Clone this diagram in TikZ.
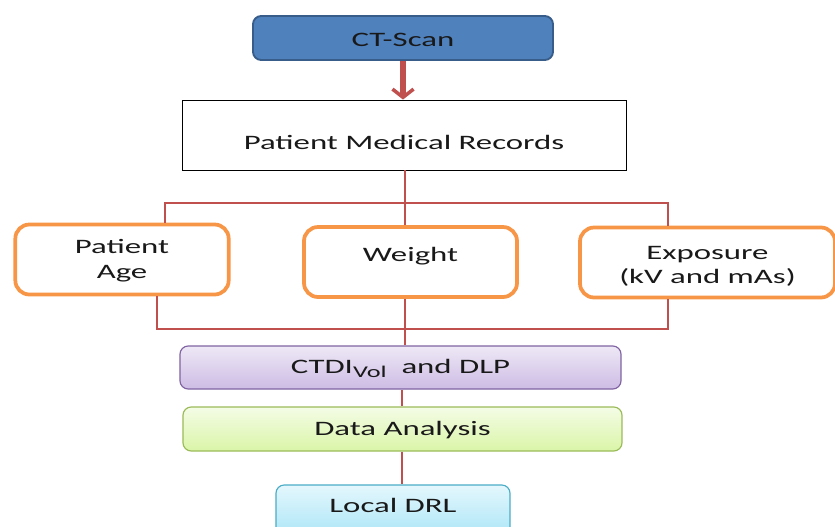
\documentclass[tikz,border=0pt]{standalone}
\usepackage{fontspec}
\setmainfont{Carlito}[FakeStretch=1.6]
\usepackage{tikz}
\usepackage{xcolor}
\usetikzlibrary{arrows.meta, positioning, calc, shadows}
\definecolor{ScanBlue}{HTML}{4F81BD}
\definecolor{ScanEdge}{HTML}{385D8A}
\definecolor{LinkRed}{HTML}{C0504D}
\definecolor{FactorOrange}{HTML}{F79646}
\definecolor{DoseLilac}{HTML}{8064A2}
\definecolor{DoseTop}{HTML}{EEE8F6}
\definecolor{DoseBottom}{HTML}{CDBCE4}
\definecolor{StatGreen}{HTML}{9BBB59}
\definecolor{StatTop}{HTML}{F4FCE6}
\definecolor{StatBottom}{HTML}{DAF5A8}
\definecolor{DrlCyan}{HTML}{4BACC6}
\definecolor{DrlTop}{HTML}{E4F7FD}
\definecolor{DrlBottom}{HTML}{ADE6F7}
% move a text up or down without changing its box
\newcommand{\nudge}[2]{\raisebox{#1}[\height][\depth]{#2}}

\begin{document}
\begin{tikzpicture}[
    x=0.03cm, y=-0.03cm,
    stage/.style={rectangle, rounded corners=7pt, align=center, font=\fontsize{17.5}{21}\selectfont,
                  text=black!90},
    factor/.style={stage, draw=FactorOrange, line width=3.2pt, fill=white, rounded corners=12pt,
                   minimum width=6.4cm, minimum height=2.1cm},
    link/.style={LinkRed, line width=2.3pt}
]
    \useasboundingbox (0,0) rectangle (835,526);
    % top of the chain
    \node[stage, draw=ScanEdge, line width=1.6pt, fill=ScanBlue, minimum width=9cm, minimum height=1.32cm]
        (ctscan) at (403,38) {\nudge{-0.06cm}{CT-Scan}};
    \node[rectangle, draw=black, line width=0.8pt, fill=white, minimum width=13.32cm, minimum height=2.1cm,
          font=\fontsize{17.5}{21}\selectfont, text=black!90] (records) at (404,135)
          {\nudge{-0.21cm}{Patient Medical Records}};
    \draw[LinkRed, line width=5pt, -{Straight Barb[length=7pt, width=18pt, line width=3pt]}]
        (ctscan.south) -- (ctscan.south |- records.north);

    % the three factors
    \node[factor] (age) at (122,259.5)
          {\nudge{-0.05cm}{\begin{tabular}{@{}c@{}}Patient\\Age\end{tabular}}};
    \node[factor, minimum width=6.39cm] (weight) at (410.5,262) {\nudge{0.18cm}{Weight}};
    \node[factor, minimum width=7.65cm] (exposure) at (707.5,262.5)
          {\nudge{-0.12cm}{\begin{tabular}{@{}c@{}}Exposure\\(kV and mAs)\end{tabular}}};

    % dose and analysis
    \node[stage, draw=DoseLilac, line width=1pt, top color=DoseTop, bottom color=DoseBottom,
          minimum width=13.23cm, minimum height=1.29cm] (ctdi) at (400.5,367.5)
          {\nudge{-0.03cm}{CTDI\raisebox{-0.35ex}{\fontsize{14}{15}\selectfont Vol}\ \ and DLP}};
    \node[stage, draw=StatGreen, line width=1pt, top color=StatTop, bottom color=StatBottom,
          minimum width=13.17cm, minimum height=1.32cm] (analysis) at (402.5,429)
          {\nudge{-0.03cm}{Data Analysis}};
    \node[stage, draw=DrlCyan, line width=1pt, top color=DrlTop, bottom color=DrlBottom,
          minimum width=7.02cm, minimum height=1.5cm, text depth=0pt] (drl) at (393,510)
          {\nudge{0.15cm}{Local DRL}};

    % split above the factors
    \coordinate (split) at (405,203);
    \draw[link] (405,0 |- records.south) -- (split);
    \draw[link] (165,0 |- age.north) -- (165,203) -- (668,203) -- (668,0 |- exposure.north);
    \draw[link] (split) -- (405,0 |- weight.north);

    % join below the factors
    \draw[link] (157,0 |- age.south) -- (157,329) -- (668,329) -- (668,0 |- exposure.south);
    \draw[link] (405,0 |- weight.south) -- (405,0 |- ctdi.north);
    \draw[link] (402,0 |- ctdi.south) -- (402,0 |- analysis.north);
    \draw[link] (402,0 |- analysis.south) -- (402,0 |- drl.north);
\end{tikzpicture}
\end{document}
